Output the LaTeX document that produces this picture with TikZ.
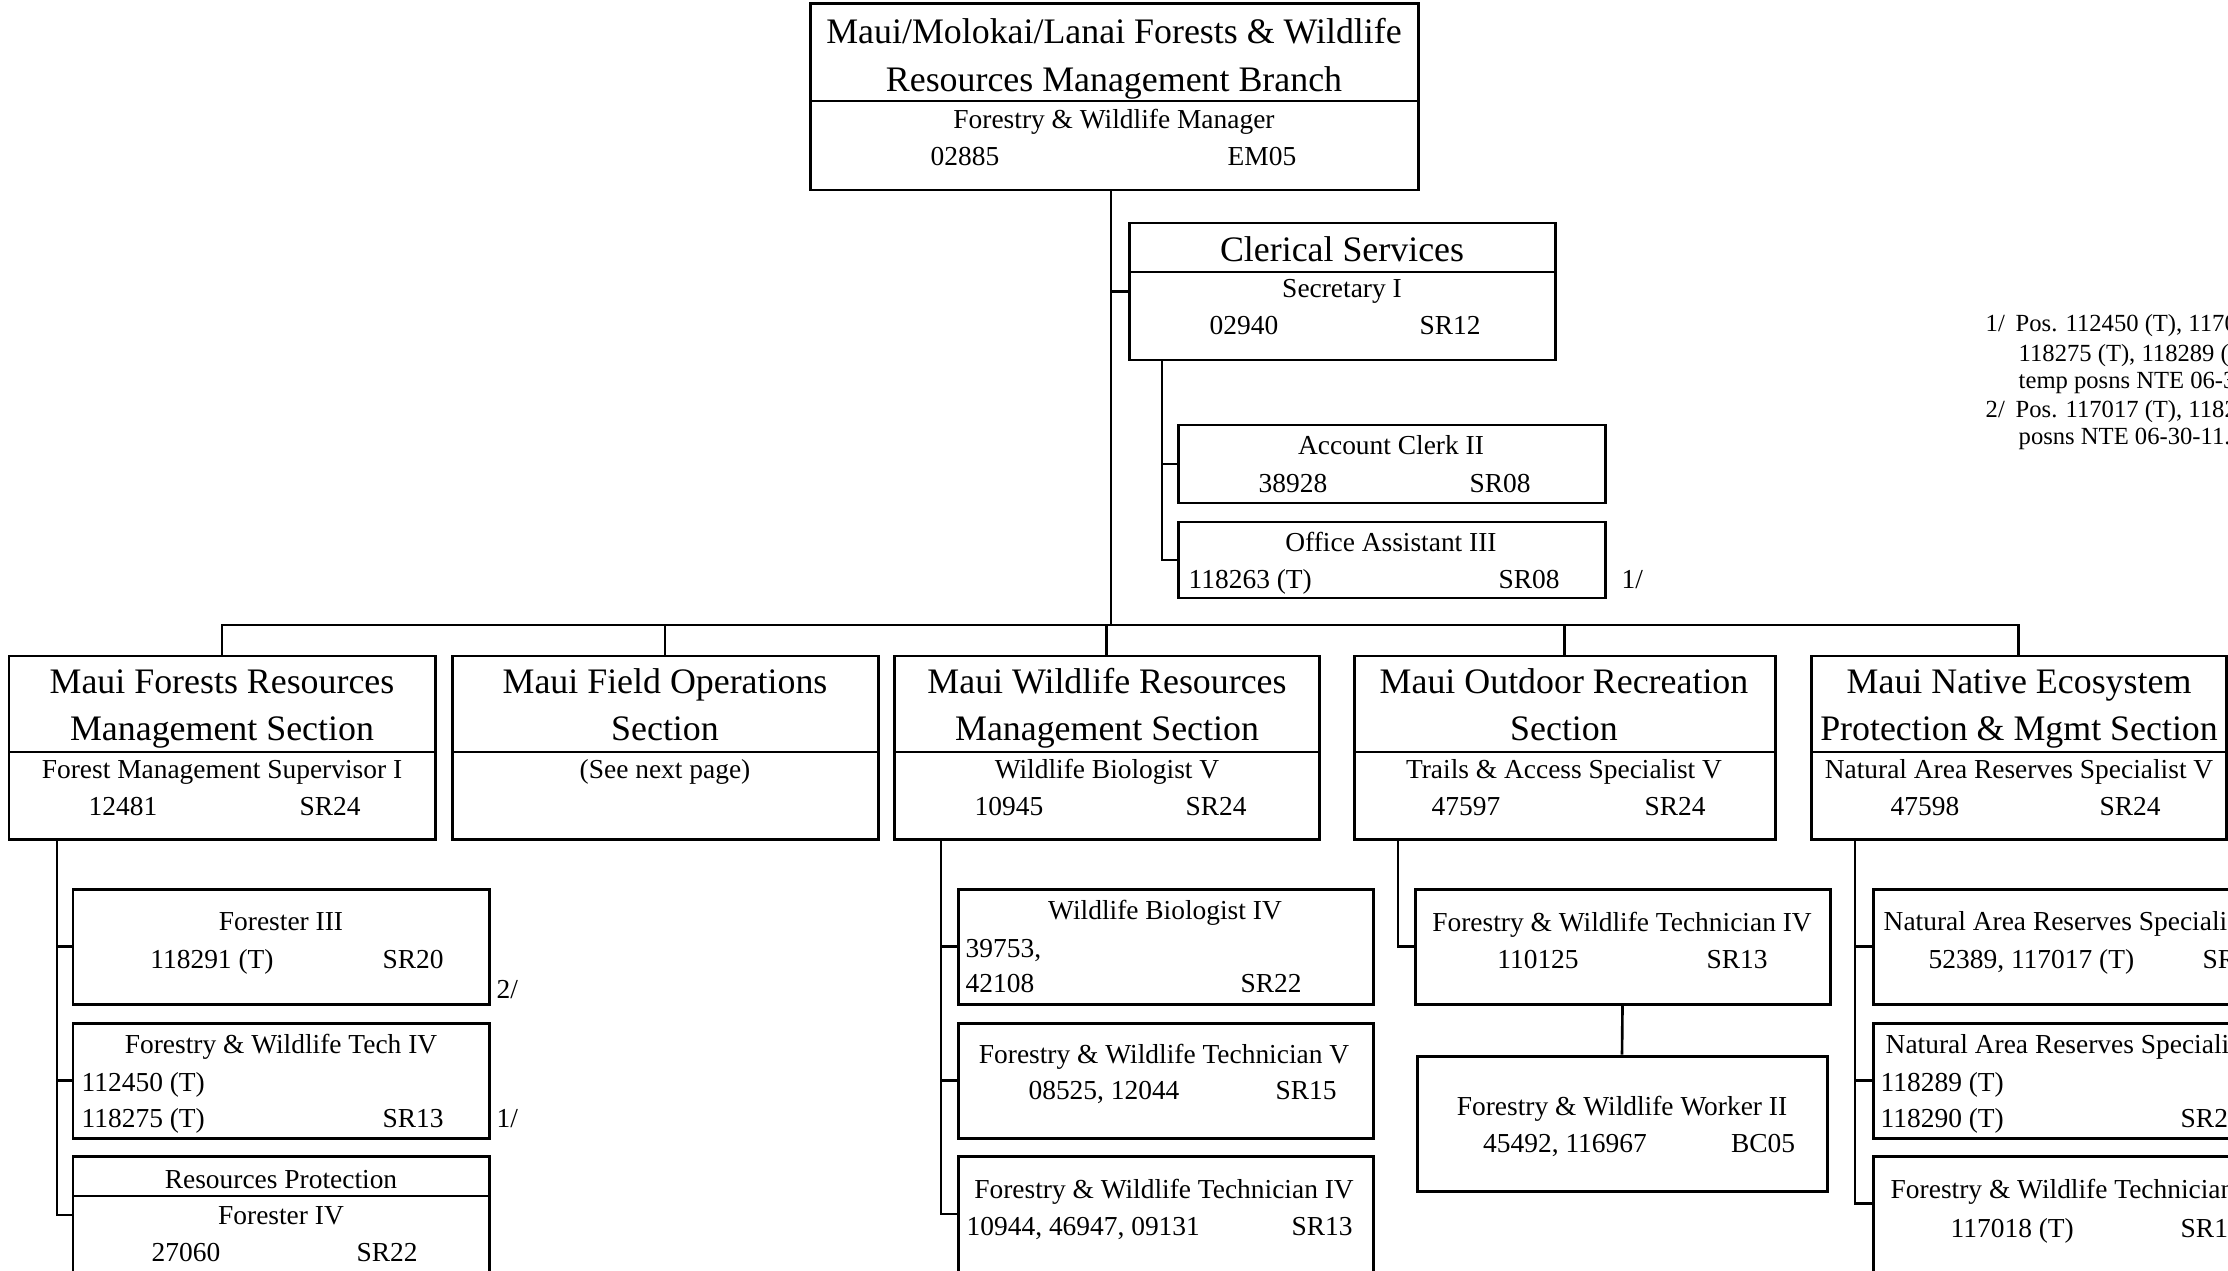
\documentclass[tikz,border=0pt]{standalone}
\usepackage{fontspec}
\setmainfont{Liberation Serif}
\usetikzlibrary{calc,fit}
\tikzset{
  orgbox/.style ={draw, line width=0.85pt, inner sep=0pt},
  divline/.style={line width=0.6pt},
  wire/.style   ={line width=0.75pt},
  ttl/.style    ={font=\fontsize{10.2}{12}\selectfont, anchor=base, inner sep=0pt},
  txt/.style    ={font=\fontsize{7.8}{9}\selectfont, anchor=base, inner sep=0pt},
  txtl/.style   ={txt, anchor=base west},
  fnote/.style  ={font=\fontsize{7}{8}\selectfont, anchor=base west, inner sep=0pt},
}
\begin{document}
\begin{tikzpicture}[x=0.01cm, y=-0.01cm]
  \useasboundingbox (0,0) rectangle (2228,1270);
  \fill[white] (0,0) rectangle (2228,1270);
  \clip (0,0) rectangle (2228,1270);

  % branch head
  \node[orgbox, fit={(810,4) (1418,190)}] (branch) {};
  \draw[divline] (810,101) -- (1418,101);
  \node[ttl] (branch-a) at (1114,44)  {Maui/Molokai/Lanai Forests \& Wildlife};
  \node[ttl] (branch-b) at (1114,92)  {Resources Management Branch};
  \node[txt] (branch-c) at (1114,129) {Forestry \& Wildlife Manager};
  \node[txt] (branch-n) at (965,166)  {02885};
  \node[txt] (branch-g) at (1262,166) {EM05};

  % clerical
  \node[orgbox, fit={(1129,223) (1555,360)}] (clerical) {};
  \draw[divline] (1129,272) -- (1555,272);
  \node[ttl] (cler-a) at (1342,262) {Clerical Services};
  \node[txt] (cler-c) at (1342,298) {Secretary I};
  \node[txt] (cler-n) at (1244,335) {02940};
  \node[txt] (cler-g) at (1450,335) {SR12};

  \node[orgbox, fit={(1178,425) (1605,503)}] (acct) {};
  \node[txt] (acct-c) at (1391,455) {Account Clerk II};
  \node[txt] (acct-n) at (1293,492) {38928};
  \node[txt] (acct-g) at (1500,492) {SR08};

  \node[orgbox, fit={(1178,522) (1605,598)}] (office) {};
  \node[txt]  (office-c) at (1391,551) {Office Assistant III};
  \node[txtl] (office-n) at (1188,588) {118263 (T)};
  \node[txt]  (office-g) at (1529,588) {SR08};
  \node[txtl] (office-f) at (1621,588) {1/};

  % sections
  \node[orgbox, fit={(9,656) (435,839)}] (sec1) {};
  \draw[divline] (9,752) -- (435,752);
  \node[ttl] (sec1-a) at (222,693) {Maui Forests Resources};
  \node[ttl] (sec1-b) at (222,740) {Management Section};
  \node[txt] (sec1-c) at (222,778) {Forest Management Supervisor I};
  \node[txt] (sec1-n) at (123,815) {12481};
  \node[txt] (sec1-g) at (330,815) {SR24};

  \node[orgbox, fit={(452,656) (878,839)}] (sec2) {};
  \draw[divline] (452,752) -- (878,752);
  \node[ttl] (sec2-a) at (665,693) {Maui Field Operations};
  \node[ttl] (sec2-b) at (665,740) {Section};
  \node[txt] (sec2-c) at (665,778) {(See next page)};

  \node[orgbox, fit={(894,656) (1319,839)}] (sec3) {};
  \draw[divline] (894,752) -- (1319,752);
  \node[ttl] (sec3-a) at (1107,693) {Maui Wildlife Resources};
  \node[ttl] (sec3-b) at (1107,740) {Management Section};
  \node[txt] (sec3-c) at (1107,778) {Wildlife Biologist V};
  \node[txt] (sec3-n) at (1009,815) {10945};
  \node[txt] (sec3-g) at (1216,815) {SR24};

  \node[orgbox, fit={(1354,656) (1775,839)}] (sec4) {};
  \draw[divline] (1354,752) -- (1775,752);
  \node[ttl] (sec4-a) at (1564,693) {Maui Outdoor Recreation};
  \node[ttl] (sec4-b) at (1564,740) {Section};
  \node[txt] (sec4-c) at (1564,778) {Trails \& Access Specialist V};
  \node[txt] (sec4-n) at (1466,815) {47597};
  \node[txt] (sec4-g) at (1675,815) {SR24};

  \node[orgbox, fit={(1811,656) (2226,839)}] (sec5) {};
  \draw[divline] (1811,752) -- (2226,752);
  \node[ttl] (sec5-a) at (2019,693) {Maui Native Ecosystem};
  \node[ttl] (sec5-b) at (2019,740) {Protection \& Mgmt Section};
  \node[txt] (sec5-c) at (2019,778) {Natural Area Reserves Specialist V};
  \node[txt] (sec5-n) at (1925,815) {47598};
  \node[txt] (sec5-g) at (2130,815) {SR24};

  % forests column
  \node[orgbox, fit={(73,889) (489,1004)}] (for3) {};
  \node[txt]  (for3-c) at (281,930) {Forester III};
  \node[txt]  (for3-n) at (212,968) {118291 (T)};
  \node[txt]  (for3-g) at (413,968) {SR20};
  \node[txtl] (for3-f) at (496,998) {2/};

  \node[orgbox, fit={(73,1023) (489,1138)}] (fwt1) {};
  \node[txt]  (fwt1-c)  at (281,1053) {Forestry \& Wildlife Tech IV};
  \node[txtl] (fwt1-n1) at (81,1091)  {112450 (T)};
  \node[txtl] (fwt1-n2) at (81,1127)  {118275 (T)};
  \node[txt]  (fwt1-g)  at (413,1127) {SR13};
  \node[txtl] (fwt1-f)  at (496,1127) {1/};

  \node[orgbox, fit={(73,1156) (489,1274)}] (resprot) {};
  \draw[divline] (73,1196) -- (489,1196);
  \node[txt] (resprot-a) at (281,1188) {Resources Protection};
  \node[txt] (resprot-c) at (281,1224) {Forester IV};
  \node[txt] (resprot-n) at (186,1261) {27060};
  \node[txt] (resprot-g) at (387,1261) {SR22};

  % wildlife column
  \node[orgbox, fit={(958,889) (1373,1004)}] (wb4) {};
  \node[txt]  (wb4-c)  at (1165,919) {Wildlife Biologist IV};
  \node[txtl] (wb4-n1) at (965,957)  {39753,};
  \node[txtl] (wb4-n2) at (965,992)  {42108};
  \node[txt]  (wb4-g)  at (1271,992) {SR22};

  \node[orgbox, fit={(958,1023) (1373,1138)}] (fwtv) {};
  \node[txt] (fwtv-c) at (1164,1063) {Forestry \& Wildlife Technician V};
  \node[txt] (fwtv-n) at (1104,1099) {08525, 12044};
  \node[txt] (fwtv-g) at (1306,1099) {SR15};

  \node[orgbox, fit={(958,1156) (1373,1272)}] (fwtiv) {};
  \node[txt]  (fwtiv-c) at (1164,1198) {Forestry \& Wildlife Technician IV};
  \node[txtl] (fwtiv-n) at (966,1235)  {10944, 46947, 09131};
  \node[txt]  (fwtiv-g) at (1322,1235) {SR13};

  % recreation column
  \node[orgbox, fit={(1415,889) (1830,1004)}] (fwt4) {};
  \node[txt] (fwt4-c) at (1622,931) {Forestry \& Wildlife Technician IV};
  \node[txt] (fwt4-n) at (1538,968) {110125};
  \node[txt] (fwt4-g) at (1737,968) {SR13};

  \node[orgbox, fit={(1417,1056) (1827,1191)}] (worker) {};
  \node[txt] (worker-c) at (1622,1115) {Forestry \& Wildlife Worker II};
  \node[txt] (worker-n) at (1565,1152) {45492, 116967};
  \node[txt] (worker-g) at (1763,1152) {BC05};

  % native ecosystem column
  \node[orgbox, fit={(1873,889) (2300,1004)}] (nar1) {};
  \node[txtl] (nar1-c) at (1883,930) {Natural Area Reserves Specialis};
  \node[txtl] (nar1-n) at (1928,968) {52389, 117017 (T)};
  \node[txtl] (nar1-g) at (2202,968) {SR};

  \node[orgbox, fit={(1873,1023) (2300,1138)}] (nar2) {};
  \node[txtl] (nar2-c)  at (1885,1053) {Natural Area Reserves Specialis};
  \node[txtl] (nar2-n1) at (1880,1091) {118289 (T)};
  \node[txtl] (nar2-n2) at (1880,1127) {118290 (T)};
  \node[txtl] (nar2-g)  at (2180,1127) {SR2};

  \node[orgbox, fit={(1873,1156) (2300,1300)}] (fwt5) {};
  \node[txtl] (fwt5-c) at (1890,1198) {Forestry \& Wildlife Technician};
  \node[txtl] (fwt5-n) at (1950,1237) {117018 (T)};
  \node[txtl] (fwt5-g) at (2180,1237) {SR1};

  % footnotes
  \node[fnote] (fn1)  at (1985,332) {1/};
  \node[fnote] (fn1a) at (2015,332) {Pos. 112450 (T), 1170};
  \node[fnote] (fn1b) at (2018,361) {118275 (T), 118289 (T};
  \node[fnote] (fn1c) at (2018,388) {temp posns NTE 06-3};
  \node[fnote] (fn2)  at (1985,417) {2/};
  \node[fnote] (fn2a) at (2015,417) {Pos. 117017 (T), 1182};
  \node[fnote] (fn2b) at (2018,445) {posns NTE 06-30-11.};

  % connectors
  \coordinate (bus) at (1111,625);
  \draw[wire] (branch.south -| bus) -- (bus);
  \draw[wire] (clerical.west) -- (clerical.west -| bus);
  \draw[wire] (sec1.north) |- (bus) -| (sec5.north);
  \draw[wire] (sec2.north) -- (sec2.north |- bus);
  \draw[wire] (sec3.north) -- (sec3.north |- bus);
  \draw[wire] (sec4.north) -- (sec4.north |- bus);

  \coordinate (ct) at (1162,360);
  \draw[wire] (ct) |- (office.west);
  \draw[wire] (acct.west) -- (acct.west -| ct);

  \coordinate (t1) at (57,839);
  \draw[wire] (t1) |- (resprot.west);
  \draw[wire] (for3.west) -- (for3.west -| t1);
  \draw[wire] (fwt1.west) -- (fwt1.west -| t1);

  \coordinate (t3) at (941,839);
  \draw[wire] (t3) |- (fwtiv.west);
  \draw[wire] (wb4.west) -- (wb4.west -| t3);
  \draw[wire] (fwtv.west) -- (fwtv.west -| t3);

  \coordinate (t4) at (1398,839);
  \draw[wire] (t4) |- (fwt4.west);
  \draw[wire] (fwt4.south) -- (worker.north);

  \coordinate (t5) at (1855,839);
  \draw[wire] (t5) |- ($(fwt5.north west)+(0,49)$);
  \draw[wire] (nar1.west) -- (nar1.west -| t5);
  \draw[wire] (nar2.west) -- (nar2.west -| t5);
\end{tikzpicture}
\end{document}
